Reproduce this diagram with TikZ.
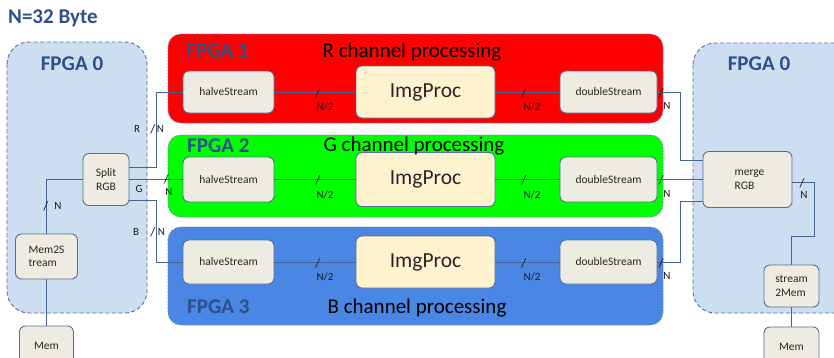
\documentclass[tikz,border=0pt]{standalone}
\usepackage{fontspec}
\setmainfont{Carlito}
\usetikzlibrary{calc}

\definecolor{wire}{RGB}{68,100,150}
\definecolor{boxline}{RGB}{84,110,150}
\definecolor{boxfill}{RGB}{238,236,226}
\definecolor{procfill}{RGB}{255,242,206}
\definecolor{hostfill}{RGB}{204,222,240}
\definecolor{hostline}{RGB}{80,112,160}
\definecolor{chanline}{RGB}{112,130,165}
\definecolor{titleblue}{RGB}{44,80,140}
\definecolor{redch}{RGB}{255,0,0}
\definecolor{greench}{RGB}{0,255,0}
\definecolor{bluech}{RGB}{74,134,228}

\tikzset{
  wh/.style 2 args={minimum width=#1pt, minimum height=#2pt},
  blk/.style={draw=boxline, fill=boxfill, line width=0.9pt, rounded corners=6pt,
    inner sep=0pt, align=center, text=black!85, font=\fontsize{11.5}{13.5}\selectfont},
  proc/.style={blk, fill=procfill, font=\fontsize{21.5}{24}\selectfont},
  chan/.style={draw=chanline, dash pattern=on 2pt off 1.2pt, line width=0.8pt, rounded corners=13pt},
  host/.style={draw=hostline, fill=hostfill, dash pattern=on 4pt off 2.5pt, line width=0.9pt, rounded corners=22pt},
  wireline/.style={draw=wire, line width=0.9pt},
  lbl/.style={inner sep=0pt, text=black!90, font=\fontsize{11}{12}\selectfont},
  tick/.style={inner sep=0pt, text=black!90, font=\fontsize{13}{13}\selectfont},
  bigtitle/.style={inner sep=0pt, text=titleblue, font=\bfseries\fontsize{21}{24}\selectfont},
  chantitle/.style={inner sep=0pt, text=black, font=\fontsize{21}{24}\selectfont},
}

\begin{document}
\begin{tikzpicture}[x=1pt,y=-1pt]
\useasboundingbox (0,0) rectangle (834,357);
\clip (0,0) rectangle (834,357);

% host FPGA regions
\draw[host] (7,42) rectangle (147,313);
\draw[host] (693,43) rectangle (870,313);

% channel FPGA regions
\draw[chan, fill=redch]   (168,34)  rectangle (663,123);
\draw[chan, fill=greench] (168,135) rectangle (663,217);
\draw[chan, fill=bluech]  (168,227) rectangle (663,325);

% titles
\node[bigtitle, anchor=base west] (ntitle) at (8,23.5) {N=32 Byte};
\node[bigtitle, anchor=base] (f0l) at (72,70) {FPGA 0};
\node[bigtitle, anchor=base] (f0r) at (759,70) {FPGA 0};
\node[bigtitle, anchor=base west] (f1) at (186,57) {FPGA 1};
\node[bigtitle, anchor=base west] (f2) at (187,152.5) {FPGA 2};
\node[bigtitle, anchor=base west] (f3) at (187,313) {FPGA 3};
\node[chantitle, anchor=base] (tr) at (412,57) {R channel processing};
\node[chantitle, anchor=base] (tb) at (417,313) {B channel processing};

% bend points of the wires
\coordinate (rb) at (156,92);
\coordinate (bb) at (156,262);
\coordinate (mr) at (680,160);
\coordinate (mb) at (680,201);
\coordinate (mo) at (814,236);

% processing blocks
\node[blk, wh={91}{42}]  (hsR) at (228.5,92) {halveStream};
\node[proc, wh={139}{52}] (ipR) at (425.5,92) {ImgProc};
\node[blk, wh={97}{42}]  (dsR) at (608.5,92) {doubleStream};

\node[blk, wh={91}{45}]  (hsG) at (228.5,179.5) {halveStream};
\node[proc, wh={139}{54}] (ipG) at (425.5,179.5) {ImgProc};
\node[blk, wh={97}{45}]  (dsG) at (608.5,179.5) {doubleStream};

\node[blk, wh={91}{44}]  (hsB) at (228.5,262) {halveStream};
\node[proc, wh={139}{52}] (ipB) at (425.5,262) {ImgProc};
\node[blk, wh={97}{44}]  (dsB) at (608.5,262) {doubleStream};

% host blocks
\node[blk, wh={46}{52}] (split) at (106,179.5) {Split\\RGB};
\node[blk, wh={62}{45}, align=left] (m2s) at (46.5,256.5) {Mem2S\\tream};
\node[blk, wh={54}{40}] (memL) at (46.5,346) {Mem};
\node[blk, wh={89}{56}, align=left] (merge) at (747.5,179.5) {\hspace*{4pt}merge\\\hspace*{4pt}RGB};
\node[blk, wh={55}{42}, align=left] (s2m) at (791.5,286) {stream\\2Mem};
\node[blk, wh={55}{40}] (memR) at (791.5,347) {Mem};

% G title sits over the ImgProc block
\node[chantitle, anchor=base] (tg) at (414,151.5) {G channel processing};

% wires
\draw[wireline] (memL.north) -- (m2s.south);
\draw[wireline] (m2s.north) |- (split.west);
\draw[wireline] ([yshift=12.5pt]split.east) -| (rb) -- (hsR.west);
\draw[wireline] (split.east) -- (hsG.west);
\draw[wireline] ([yshift=-20.5pt]split.east) -| (bb) -- (hsB.west);
\foreach \r in {R,G,B}{
  \draw[wireline] (hs\r.east) -- (ip\r.west);
  \draw[wireline] (ip\r.east) -- (ds\r.west);
}
\draw[wireline] (dsR.east) -| (mr) -- (mr -| merge.west);
\draw[wireline] (dsG.east) -- (merge.west);
\draw[wireline] (dsB.east) -| (mb) -- (mb -| merge.west);
\draw[wireline] ([yshift=-3pt]merge.east) -| (mo) -| (s2m.north);
\draw[wireline] (s2m.south) -- (memR.north);

% bus width markers
\foreach \r/\y in {R/92,G/179.5,B/262}{
  \node[tick] (sa\r) at (318,\y+1) {/};
  \node[lbl]  (na\r) at (325,\y+15) {N/2};
  \node[tick] (sb\r) at (524,\y+1) {/};
  \node[lbl]  (nb\r) at (532,\y+15) {N/2};
  \node[tick] (sc\r) at (661,\y+1) {/};
  \node[lbl]  (nc\r) at (667,\y+14) {N};
}
\node[tick] (sgin) at (166.5,179) {/};
\node[lbl]  (ngin) at (169,192) {N};

\node[lbl]  (lr)  at (137,129) {R};
\node[tick] (sr)  at (153,129) {/};
\node[lbl]  (nr)  at (160.5,129) {N};
\node[lbl]  (lg)  at (139,189) {G};
\node[lbl]  (lb)  at (136,232) {B};
\node[tick] (sbb) at (153,232) {/};
\node[lbl]  (nbb) at (161.5,232) {N};

\node[tick] (sm)  at (46,206) {/};
\node[lbl]  (nm)  at (58,206) {N};

\node[tick] (so)  at (802,183) {/};
\node[lbl]  (no)  at (804,195) {N};
\end{tikzpicture}
\end{document}
